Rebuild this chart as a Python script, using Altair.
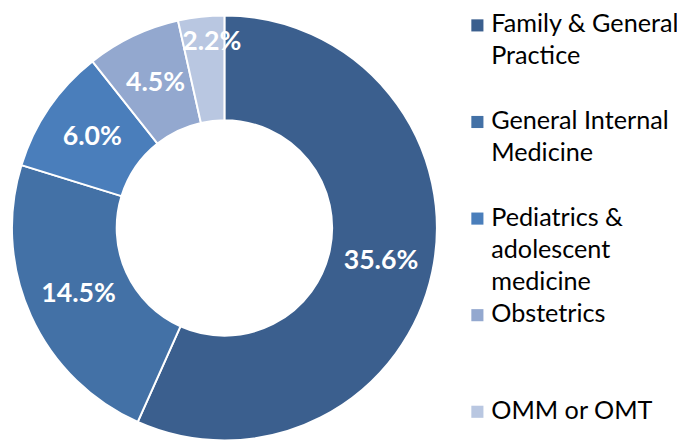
import altair as alt
import pandas as pd

categories = ["Family & General Practice", "General Internal Medicine",
              "Pediatrics & adolescent medicine", "Obstetrics", "OMM or OMT"]
legend_lines = ["Family & General\nPractice", "General Internal\nMedicine",
                "Pediatrics &\nadolescent\nmedicine", "Obstetrics", "OMM or OMT"]
values = [35.6, 14.5, 6.0, 4.5, 2.2]
labels = ["35.6%", "14.5%", "6.0%", "4.5%", "2.2%"]
colors = ["#3B5F8E", "#4371A6", "#4A7EBB", "#93A8CF", "#B9C7E1"]

df = pd.DataFrame({
    "category": categories,
    "value": values,
    "label": labels,
    "order": list(range(len(categories))),
    "legend": legend_lines,
})

color_scale = alt.Scale(domain=categories, range=colors)
FONT = "Lato"

base = alt.Chart(df).encode(
    theta=alt.Theta("value:Q", stack=True),
    order=alt.Order("order:Q"),
    x=alt.value(219),
    y=alt.value(220),
)

arcs = base.mark_arc(innerRadius=109, outerRadius=215, stroke="white", strokeWidth=2).encode(
    color=alt.Color("category:N", scale=color_scale, legend=None)
)

text_main = base.mark_text(radius=162, font=FONT, fontSize=27, fontWeight="bold",
                           color="white", align="center", baseline="middle").encode(
    text=alt.condition("datum.value >= 3", alt.Text("label:N"), alt.value(""))
)
text_small = base.mark_text(radius=189, dx=8, font=FONT, fontSize=27, fontWeight="bold",
                            color="white", align="center", baseline="middle").encode(
    text=alt.condition("datum.value < 3", alt.Text("label:N"), alt.value(""))
)

leg_base = alt.Chart(df).encode(
    y=alt.Y("category:N", sort=categories, axis=None,
            scale=alt.Scale(type="point", range=[15, 406], padding=0))
)
leg_sq = leg_base.mark_square(size=150, opacity=1).encode(
    x=alt.value(475),
    color=alt.Color("category:N", scale=color_scale, legend=None),
)
leg_txt = leg_base.mark_text(align="left", baseline="alphabetic", dy=7, lineBreak="\n",
                             lineHeight=32.5, font=FONT, fontSize=25.5, color="#000000").encode(
    x=alt.value(489),
    text="legend:N",
)

chart = alt.layer(arcs, text_main, text_small, leg_sq, leg_txt).properties(
    width=677, height=435, padding=0,
    autosize=alt.AutoSizeParams(type="none"),
).configure_view(stroke=None)

chart.save("out.html", embed_options={"renderer": "svg", "actions": False})
